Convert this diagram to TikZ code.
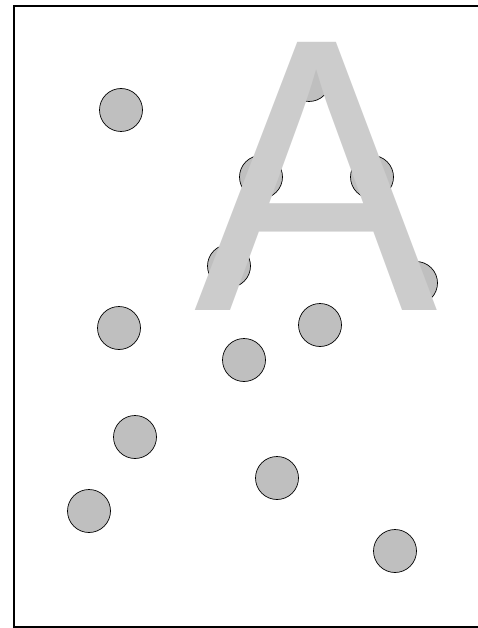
\documentclass[tikz,border=0pt]{standalone}
\usepackage{fontspec}
\newfontfamily\letterfont{Liberation Sans}
\begin{document}
\begin{tikzpicture}[x=1pt,y=-1pt,
  dot/.style={circle,draw,fill=black!25,minimum size=43pt,inner sep=0pt,line width=0.7pt},
  letter/.style={text=black!20,inner sep=0pt,anchor=base}]
\useasboundingbox (0,0) rectangle (477,628);
\draw[line width=1.2pt] (478,6) -- (14,6) -- (14,627) -- (478,627);

\foreach \x/\y [count=\i] in {121/110, 309/80, 261/177, 372/177, 229/266, 416/283,
  119/328, 320/325, 244/360, 135/437, 277/478, 89/511, 395/551}
  \node[dot] (c\i) at (\x,\y) {};

\node[letter] (A) at (316.5,310) {\resizebox{243pt}{268pt}{\letterfont A}};
\end{tikzpicture}
\end{document}
